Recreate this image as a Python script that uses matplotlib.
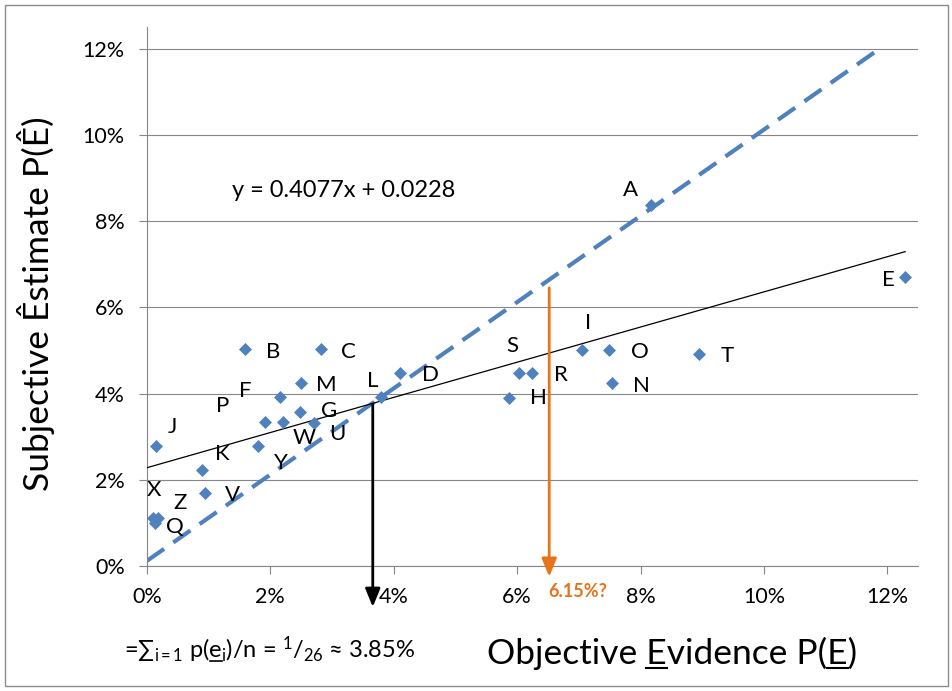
import matplotlib
matplotlib.use('Agg')
import matplotlib.pyplot as plt
from matplotlib.patches import Rectangle
from matplotlib.lines import Line2D
from matplotlib.ticker import PercentFormatter

plt.rcParams['font.family'] = ['Lato', 'DejaVu Sans']
plt.rcParams['mathtext.fontset'] = 'custom'
plt.rcParams['mathtext.rm'] = 'Lato'
plt.rcParams['mathtext.it'] = 'Lato:italic'
plt.rcParams['mathtext.bf'] = 'Lato:bold'

# data points (objective %, subjective %)
obj_pct = [8.17, 12.29, 1.59, 2.82, 4.10, 2.50, 3.79, 2.16, 2.48, 1.91,
           2.20, 2.71, 0.15, 1.80, 0.89, 0.94, 0.10, 0.18, 0.13, 6.03,
           6.24, 5.87, 7.05, 7.49, 7.54, 8.95]
subj_pct = [8.38, 6.70, 5.03, 5.03, 4.48, 4.25, 3.92, 3.92, 3.57, 3.34,
            3.34, 3.32, 2.78, 2.78, 2.23, 1.69, 1.11, 1.11, 1.00, 4.48,
            4.48, 3.90, 5.01, 5.01, 4.25, 4.92]

# letter labels and where they sit (in %)
labels = ['A', 'E', 'B', 'C', 'D', 'M', 'L', 'F', 'P', 'G', 'W', 'U', 'J',
          'K', 'Y', 'X', 'Z', 'V', 'Q', 'S', 'R', 'H', 'I', 'O', 'N', 'T']
label_x = [7.84, 12.01, 2.04, 3.27, 4.59, 2.90, 3.66, 1.60, 1.22, 2.95, 2.54,
           3.08, 0.42, 1.22, 2.17, 0.11, 0.53, 1.39, 0.45, 5.92, 6.71, 6.34,
           7.15, 7.99, 8.02, 9.40]
label_y = [8.72, 6.64, 4.97, 4.97, 4.43, 4.20, 4.29, 4.06, 3.71, 3.60, 2.97,
           3.06, 3.23, 2.60, 2.39, 1.76, 1.46, 1.65, 0.90, 5.10, 4.43, 3.90,
           5.64, 4.97, 4.18, 4.87]

slope = 0.4077
intercept = 2.28
mean_obj = 3.66
guess_obj = 6.52

blue = '#4F81BD'
orange = '#E8731A'

fig = plt.figure(figsize=(9.52, 6.91), dpi=100)
ax = fig.add_axes([0.1544, 0.1809, 0.810, 0.780])

# diagonal y = x
ax.plot([0.0, 11.88], [0.12, 12.0], color=blue, lw=3, ls=(0, (5, 2.7)),
        zorder=2)

# trend line
tx = [0.0, max(obj_pct)]
ax.plot(tx, [intercept + slope * v for v in tx], color='black', lw=0.9,
        zorder=3)

ax.scatter(obj_pct, subj_pct, marker='D', s=44, color=blue, zorder=4,
           linewidths=0)

for lab, lx, ly in zip(labels, label_x, label_y):
    ax.text(lx, ly, lab, fontsize=16, ha='center', va='center', zorder=5)

ax.text(3.19, 8.72, 'y = 0.4077x + 0.0228', fontsize=17, ha='center',
        va='center')

# arrows
ax.annotate('', xy=(mean_obj, -0.95), xytext=(mean_obj, 3.75),
            arrowprops=dict(arrowstyle='-|>,head_width=0.45,head_length=1.1',
                            color='black', lw=2, shrinkA=0, shrinkB=0),
            annotation_clip=False, zorder=6)
ax.annotate('', xy=(guess_obj, -0.25), xytext=(guess_obj, 6.45),
            arrowprops=dict(arrowstyle='-|>,head_width=0.45,head_length=1.1',
                            color=orange, lw=2, shrinkA=0, shrinkB=0),
            annotation_clip=False, zorder=6)
ax.text(6.98, -0.6, '6.15%?', color=orange, fontsize=13, fontweight='bold',
        ha='center', va='center', clip_on=False)

ax.set_xlim(0, 12.5)
ax.set_ylim(0, 12.5)
ax.set_xticks(range(0, 13, 2))
ax.set_yticks(range(0, 13, 2))
ax.xaxis.set_major_formatter(PercentFormatter(decimals=0))
ax.yaxis.set_major_formatter(PercentFormatter(decimals=0))
ax.tick_params(labelsize=15.5, length=6, width=0.8, color='#868686')
ax.tick_params(axis='y', pad=10)
ax.tick_params(axis='x', pad=9)
ax.grid(axis='y', color='#868686', lw=0.8)
ax.set_axisbelow(True)
for side in ['top', 'right']:
    ax.spines[side].set_visible(False)
for side in ['left', 'bottom']:
    ax.spines[side].set_color('#868686')
    ax.spines[side].set_linewidth(0.8)

fig.text(0.038, 0.56, 'Subjective Êstimate P(Ê)', fontsize=25.5,
         rotation=90, ha='center', va='center')

renderer = fig.canvas.get_renderer()


def text_width(s, size):
    t = fig.text(0, 0, s, fontsize=size)
    w = t.get_window_extent(renderer).width
    t.remove()
    return w


def underline(x0_px, base_px, prefix, ch, size, lw):
    # underline the character ch that ends prefix, in a text starting at x0
    end = x0_px + text_width(prefix, size)
    start = end - text_width(ch, size)
    W, H = fig.bbox.width, fig.bbox.height
    fig.add_artist(Line2D([start / W, end / W], [base_px / H, base_px / H],
                          color='black', lw=lw, transform=fig.transFigure))


W, H = fig.bbox.width, fig.bbox.height

xlab = 'Objective Evidence P(E)'
x0, base = 487, H - 664
fig.text(x0 / W, base / H, xlab, fontsize=25.5, ha='left', va='baseline')
underline(x0, base - 4, 'Objective E', 'E', 25.5, 1.5)
underline(x0, base - 4, 'Objective Evidence P(E', 'E', 25.5, 1.5)

formula = (r'=∑${}_{\mathrm{i=1}}$ p(e${}_{\mathrm{i}}$)/n = '
           r'${}^{\mathrm{1}}$/${}_{\mathrm{26}}$ ≈ 3.85%')
x0, base = 124, H - 658
fig.text(x0 / W, base / H, formula, fontsize=17, ha='left', va='baseline')
underline(x0, base - 3, r'=∑${}_{\mathrm{i=1}}$ p(e', 'e', 17, 1.2)

fig.patches.append(Rectangle((0.005, 0.007), 0.991, 0.986,
                             transform=fig.transFigure, fill=False,
                             edgecolor='#8c8c8c', lw=1))

plt.savefig('out.png', dpi=100)
